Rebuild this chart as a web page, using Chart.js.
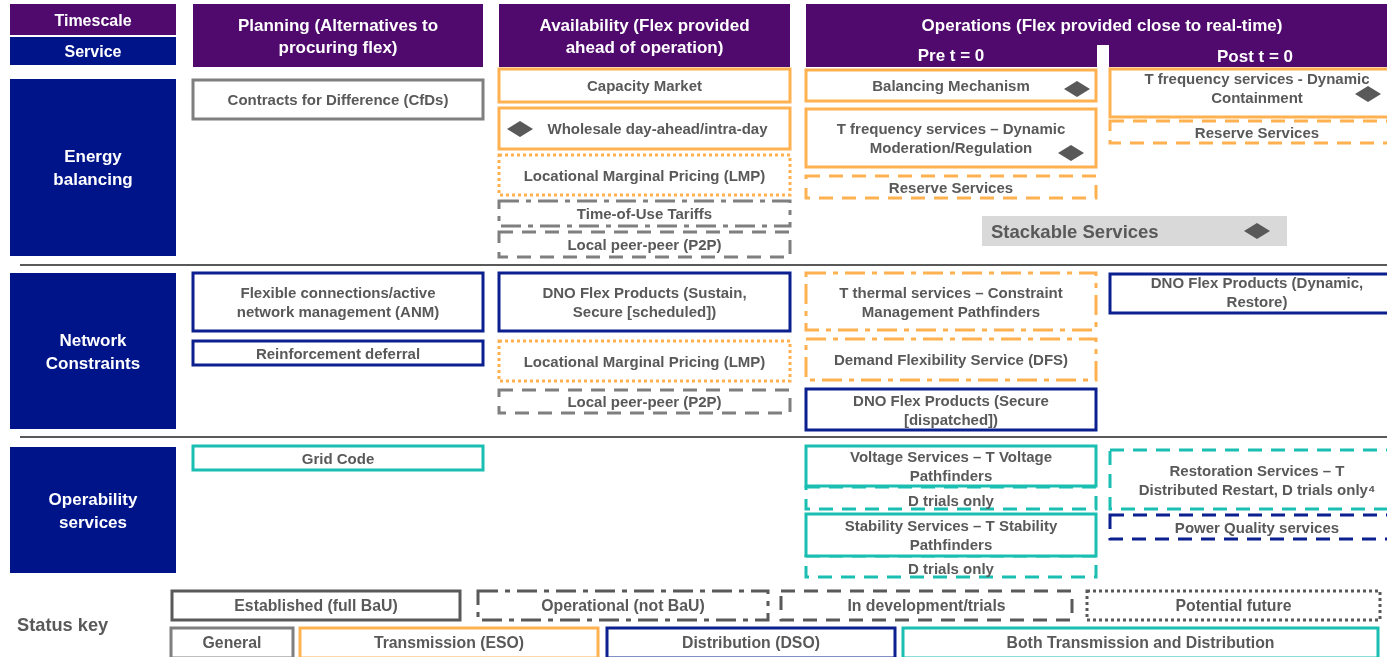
<!DOCTYPE html>
<html>
<head>
<meta charset="utf-8">
<script src="https://cdn.jsdelivr.net/npm/chart.js@4.4.1/dist/chart.umd.min.js"></script>
<style>
  html, body { margin: 0; padding: 0; background: #fff; }
  canvas { display: block; }
</style>
</head>
<body>
<canvas id="flexMap" width="1387" height="657"></canvas>
<script>
    // --- diagram content (positions are in diagram units = the chart's x / y scale) ---
    const colX = {
        label: [10, 176], plan: [193, 483], avail: [499, 790],
        pre: [806, 1096], post: [1110, 1392]
    };

    // timescale headers: [text, column, top, bottom, centreX, centreY]
    const timeHeads = [
        ['Timescale', 'label', 4, 35, null, 20],
        ['Planning (Alternatives to\nprocuring flex)', 'plan', 4, 67, null, 36],
        ['Availability (Flex provided\nahead of operation)', 'avail', 4, 67, null, 36],
        ['Operations (Flex provided close to real-time)', 'ops', 4, 67, 1102, 25]
    ];
    const subHeads = [['Pre t = 0', 951, 55], ['Post t = 0', 1255, 56]];

    // service rows: [text, top, bottom]
    const serviceRows = [
        ['Service', 37, 65],
        ['Energy\nbalancing', 79, 256],
        ['Network\nConstraints', 273, 429],
        ['Operability\nservices', 447, 573]
    ];
    const rowDividers = [265, 437];

    // owner: gen / eso / dso / both ; status: est / ops / dev / fut
    const services = [
        // Energy balancing
        { text: 'Contracts for Difference (CfDs)', col: 'plan', y: [80, 119], owner: 'gen', status: 'est' },
        { text: 'Capacity Market', col: 'avail', y: [69, 102], owner: 'eso', status: 'est' },
        { text: 'Wholesale day-ahead/intra-day', col: 'avail', y: [108, 149], owner: 'eso', status: 'est', dx: 13 },
        { text: 'Locational Marginal Pricing (LMP)', col: 'avail', y: [155, 195], owner: 'eso', status: 'fut' },
        { text: 'Time-of-Use Tariffs', col: 'avail', y: [201, 226], owner: 'gen', status: 'ops' },
        { text: 'Local peer-peer (P2P)', col: 'avail', y: [232, 257], owner: 'gen', status: 'dev' },
        { text: 'Balancing Mechanism', col: 'pre', y: [70, 101], owner: 'eso', status: 'est' },
        { text: 'T frequency services \u2013 Dynamic\nModeration/Regulation', col: 'pre', y: [109, 167], owner: 'eso', status: 'est' },
        { text: 'Reserve Services', col: 'pre', y: [176, 198], owner: 'eso', status: 'dev' },
        { text: 'T frequency services - Dynamic\nContainment', col: 'post', y: [69, 117], owner: 'eso', status: 'est', dx: 6, dy: -5 },
        { text: 'Reserve Services', col: 'post', y: [121, 143], owner: 'eso', status: 'dev', dx: 6 },
        // Network constraints
        { text: 'Flexible connections/active\nnetwork management (ANM)', col: 'plan', y: [273, 331], owner: 'dso', status: 'est' },
        { text: 'Reinforcement deferral', col: 'plan', y: [341, 365], owner: 'dso', status: 'est' },
        { text: 'DNO Flex Products (Sustain,\nSecure [scheduled])', col: 'avail', y: [273, 331], owner: 'dso', status: 'est' },
        { text: 'Locational Marginal Pricing (LMP)', col: 'avail', y: [341, 381], owner: 'eso', status: 'fut' },
        { text: 'Local peer-peer (P2P)', col: 'avail', y: [390, 413], owner: 'gen', status: 'dev' },
        { text: 'T thermal services \u2013 Constraint\nManagement Pathfinders', col: 'pre', y: [273, 330], owner: 'eso', status: 'ops' },
        { text: 'Demand Flexibility Service (DFS)', col: 'pre', y: [339, 380], owner: 'eso', status: 'ops' },
        { text: 'DNO Flex Products (Secure\n[dispatched])', col: 'pre', y: [389, 430], owner: 'dso', status: 'est' },
        { text: 'DNO Flex Products (Dynamic,\nRestore)', col: 'post', y: [274, 313], owner: 'dso', status: 'est', dx: 6, dy: -2 },
        // Operability
        { text: 'Grid Code', col: 'plan', y: [446, 470], owner: 'both', status: 'est' },
        { text: 'D trials only', col: 'pre', y: [487, 509], owner: 'both', status: 'dev', dy: 2 },
        { text: 'Voltage Services \u2013 T Voltage\nPathfinders', col: 'pre', y: [446, 486], owner: 'both', status: 'est' },
        { text: 'D trials only', col: 'pre', y: [556, 577], owner: 'both', status: 'dev', dy: 2 },
        { text: 'Stability Services \u2013 T Stability\nPathfinders', col: 'pre', y: [514, 556], owner: 'both', status: 'est' },
        { text: 'Restoration Services \u2013 T\nDistributed Restart, D trials only\u2074', col: 'post', y: [450, 509], owner: 'both', status: 'dev', dx: 6 },
        { text: 'Power Quality services', col: 'post', y: [515, 539], owner: 'dso', status: 'dev', dx: 6 }
    ];

    const stackable = { text: 'Stackable Services', x: [982, 1287], y: [216, 246] };

    // diamonds mark stackable services
    const diamondPoints = [
        { x: 520, y: 129 }, { x: 1077, y: 89 }, { x: 1071, y: 153 },
        { x: 1368, y: 94 }, { x: 1257, y: 231 }
    ];

    // status key
    const statusKey = [
        ['Established (full BaU)', 172, 460, 'est'],
        ['Operational (not BaU)', 478, 768, 'ops'],
        ['In development/trials', 781, 1072, 'dev'],
        ['Potential future', 1087, 1380, 'fut']
    ];
    const ownerKey = [
        ['General', 171, 293, 'gen'],
        ['Transmission (ESO)', 300, 598, 'eso'],
        ['Distribution (DSO)', 607, 895, 'dso'],
        ['Both Transmission and Distribution', 903, 1378, 'both']
    ];

    // --- styles ---
    const PURPLE = '#500a6e', NAVY = '#001489', TEXT = '#595959';
    const OWNER_COLOR = { gen: '#7f7f7f', eso: '#ffb152', dso: '#0b1f8f', both: '#1bbfb1', key: '#595959' };
    const STATUS_DASH = { est: [], ops: [20, 7, 5, 7], dev: [14, 9], fut: [3, 3] };
    const FONT = '"Liberation Sans", Arial, sans-serif';
    const TEXT_NUDGE = 1.5; // canvas 'middle' baseline sits a bit high for Liberation

    function diamondImage() {
        const c = document.createElement('canvas');
        c.width = 26; c.height = 16;
        const g = c.getContext('2d');
        g.fillStyle = '#595959';
        g.beginPath();
        g.moveTo(0, 8); g.lineTo(13, 0); g.lineTo(26, 8); g.lineTo(13, 16);
        g.closePath(); g.fill();
        return c;
    }

    function drawText(ctx, text, cx, cy, opts) {
        const lines = text.split('\n');
        const lh = opts.lh || 19;
        ctx.font = opts.font;
        ctx.fillStyle = opts.color;
        ctx.textAlign = opts.align || 'center';
        ctx.textBaseline = 'middle';
        lines.forEach((ln, i) => {
            const yy = cy + TEXT_NUDGE + (i - (lines.length - 1) / 2) * lh;
            if (opts.squeeze) {
                const w = ctx.measureText(ln).width;
                ctx.fillText(ln, cx, yy, w * opts.squeeze);
            } else {
                ctx.fillText(ln, cx, yy);
            }
        });
    }

    function strokeBox(ctx, x0, y0, x1, y1, color, dash, width) {
        ctx.save();
        ctx.strokeStyle = color;
        ctx.lineWidth = width || 3;
        ctx.setLineDash(dash);
        ctx.lineJoin = 'miter';
        ctx.fillStyle = '#fff';
        ctx.beginPath();
        ctx.rect(x0, y0, x1 - x0, y1 - y0);
        ctx.fill();
        ctx.stroke();
        ctx.restore();
    }

    const diagramPlugin = {
        id: 'diagram',
        beforeDatasetsDraw(chart) {
            const { ctx, scales } = chart;
            const X = v => scales.x.getPixelForValue(v);
            const Y = v => scales.y.getPixelForValue(v);
            ctx.save();

            // timescale headers
            timeHeads.forEach(([t, col, top, bot, cx, cy]) => {
                const xr = col === 'ops' ? [colX.pre[0], 1392] : colX[col];
                ctx.fillStyle = PURPLE;
                ctx.fillRect(X(xr[0]), Y(top), X(xr[1]) - X(xr[0]), Y(bot) - Y(top));
                const fs = col === 'label' ? 16 : 17;
                drawText(ctx, t, X(cx != null ? cx : (xr[0] + xr[1]) / 2), Y(cy),
                    { font: `bold ${fs}px ${FONT}`, color: '#fff', lh: 22 });
            });
            // notch between pre / post
            ctx.fillStyle = '#fff';
            ctx.fillRect(X(1097), Y(45), X(1109) - X(1097), Y(68) - Y(45));
            subHeads.forEach(([t, cx, cy]) => {
                drawText(ctx, t, X(cx), Y(cy), { font: `bold 17px ${FONT}`, color: '#fff' });
            });

            // service row labels
            serviceRows.forEach(([t, top, bot], i) => {
                ctx.fillStyle = NAVY;
                ctx.fillRect(X(colX.label[0]), Y(top), X(colX.label[1]) - X(colX.label[0]), Y(bot) - Y(top));
                drawText(ctx, t, X((colX.label[0] + colX.label[1]) / 2), Y((top + bot) / 2),
                    { font: `bold ${i ? 17 : 16}px ${FONT}`, color: '#fff', lh: 23 });
            });

            // row dividers
            ctx.strokeStyle = '#595959';
            ctx.lineWidth = 2;
            rowDividers.forEach(v => {
                ctx.beginPath();
                ctx.moveTo(X(20), Y(v)); ctx.lineTo(X(1392), Y(v));
                ctx.stroke();
            });

            // stackable services band
            ctx.fillStyle = '#d9d9d9';
            ctx.fillRect(X(stackable.x[0]), Y(stackable.y[0]), X(stackable.x[1]) - X(stackable.x[0]), Y(stackable.y[1]) - Y(stackable.y[0]));
            drawText(ctx, stackable.text, X(stackable.x[0] + 9), Y((stackable.y[0] + stackable.y[1]) / 2),
                { font: `bold 18.5px ${FONT}`, color: TEXT, align: 'left' });

            // service boxes
            services.forEach(s => {
                const xr = colX[s.col];
                strokeBox(ctx, X(xr[0]), Y(s.y[0]), X(xr[1]), Y(s.y[1]), OWNER_COLOR[s.owner], STATUS_DASH[s.status]);
                drawText(ctx, s.text, X((xr[0] + xr[1]) / 2 + (s.dx || 0)), Y((s.y[0] + s.y[1]) / 2 + (s.dy || 0)),
                    { font: `bold 15px ${FONT}`, color: TEXT, lh: 19 });
            });

            // status key
            drawText(ctx, 'Status key', X(17), Y(624), { font: `bold 19px ${FONT}`, color: TEXT, align: 'left', squeeze: 0.96 });
            statusKey.forEach(([t, x0, x1, st]) => {
                strokeBox(ctx, X(x0), Y(591), X(x1), Y(620), OWNER_COLOR.key, STATUS_DASH[st]);
                drawText(ctx, t, X((x0 + x1) / 2), Y(605), { font: `bold 17px ${FONT}`, color: TEXT, squeeze: 0.93 });
            });
            ownerKey.forEach(([t, x0, x1, ow]) => {
                strokeBox(ctx, X(x0), Y(628), X(x1), Y(658), OWNER_COLOR[ow], []);
                drawText(ctx, t, X((x0 + x1) / 2), Y(642), { font: `bold 17px ${FONT}`, color: TEXT, squeeze: 0.93 });
            });

            ctx.restore();
        }
    };

    new Chart(document.getElementById('flexMap').getContext('2d'), {
        type: 'scatter',
        data: {
            datasets: [{
                data: diamondPoints,
                pointStyle: diamondImage(),
                pointRadius: 10,
                clip: false
            }]
        },
        options: {
            responsive: false,
            animation: false,
            layout: { padding: 0, autoPadding: false },
            events: [],
            scales: {
                x: { type: 'linear', min: 0, max: 1387, display: false },
                y: { type: 'linear', min: 0, max: 657, reverse: true, display: false }
            },
            plugins: { legend: { display: false }, tooltip: { enabled: false } }
        },
        plugins: [diagramPlugin]
    });
</script>
</body>
</html>
